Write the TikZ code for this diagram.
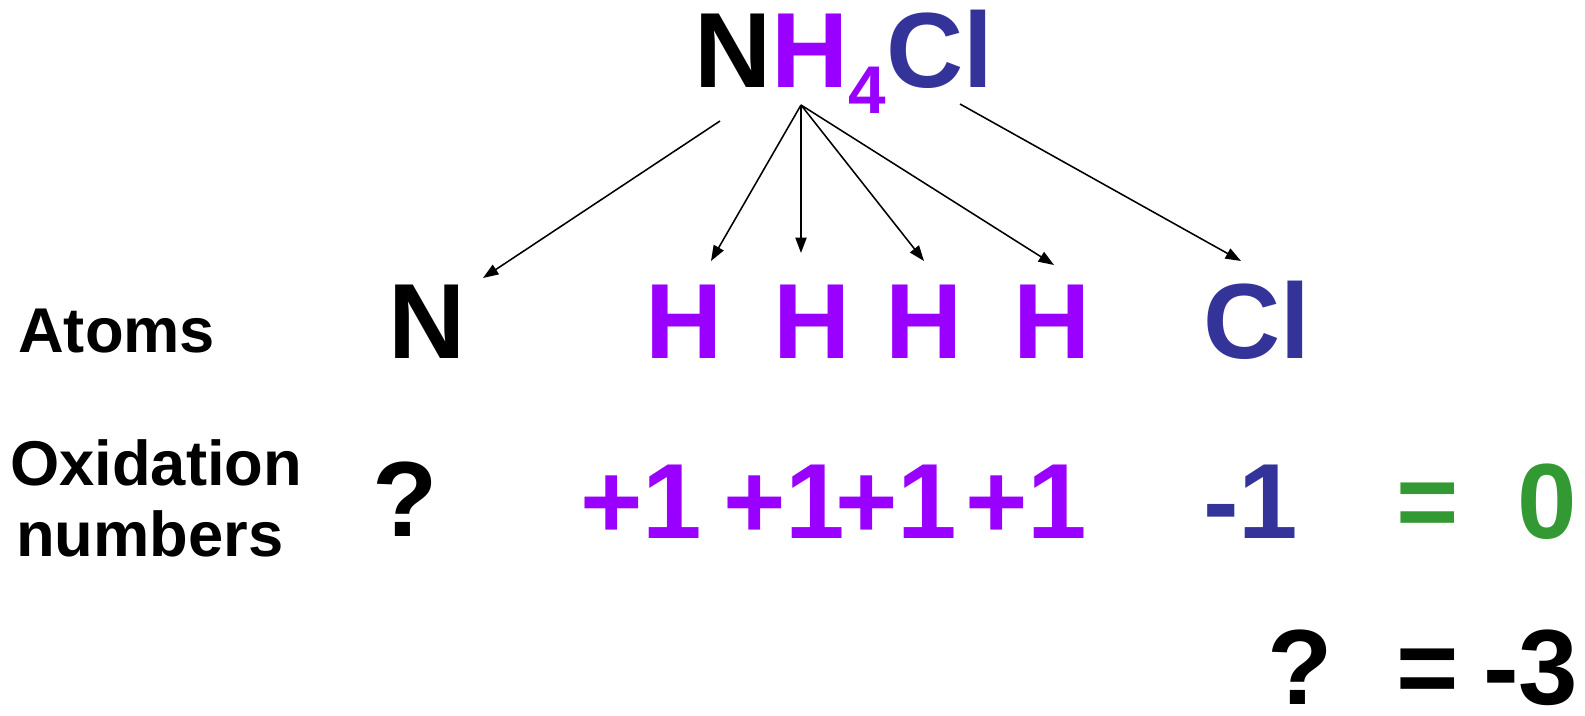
\documentclass[tikz,border=0pt]{standalone}
\usepackage{fontspec}
\setmainfont{Liberation Sans}
\usetikzlibrary{arrows.meta}
\definecolor{hpurple}{HTML}{9900FF}
\definecolor{clblue}{HTML}{333399}
\definecolor{sumgreen}{HTML}{339933}
\newcommand{\bigsym}{\fontsize{76pt}{80pt}\selectfont\bfseries}
\newcommand{\labsym}{\fontsize{45pt}{50pt}\selectfont\bfseries}
\newcommand{\subsym}{\fontsize{48pt}{50pt}\selectfont\bfseries}

\begin{document}
\begin{tikzpicture}[x=0.025cm,y=-0.025cm,
  big/.style={anchor=base west,inner sep=0pt,font=\bigsym},
  lab/.style={anchor=base west,inner sep=0pt,font=\labsym},
  link/.style={-{Triangle[length=11pt,width=8pt]},line width=1.1pt}]
  \useasboundingbox (0,0) rectangle (1585,716);
  % formula
  \node[big] (form) at (694,88)
    {N\textcolor{hpurple}{H\raisebox{-26\dimexpr0.025cm\relax}{\subsym 4}}\textcolor{clblue}{Cl}};
  % atoms row
  \node[lab] (atoms) at (18,352) {Atoms};
  \node[big] (n) at (388,358) {N};
  \node[big,hpurple] (h1) at (645,358) {H};
  \node[big,hpurple] (h2) at (773,358) {H};
  \node[big,hpurple] (h3) at (885,358) {H};
  \node[big,hpurple] (h4) at (1013,358) {H};
  \node[big,clblue] (cl) at (1203,358) {Cl};
  % oxidation numbers
  \node[lab] (oxa) at (10,485) {Oxidation};
  \node[lab] (oxb) at (16,556) {numbers};
  \node[big] (qn) at (372,536) {?};
  \node[big,hpurple] (p1) at (580,538) {+1};
  \node[big,hpurple] (p2) at (723,538) {+1};
  \node[big,hpurple] (p3) at (835,538) {+1};
  \node[big,hpurple] (p4) at (965,538) {+1};
  \node[big,clblue] (m1) at (1203,538) {-1};
  \node[big,sumgreen] (eq) at (1396,538) {=};
  \node[big,sumgreen] (zero) at (1517,538) {0};
  % result
  \node[big] (qr) at (1267,704) {?};
  \node[big] (eqr) at (1396,704) {=};
  \node[big] (res) at (1483,704) {-3};
  % arrows
  \coordinate (nsrc) at (720,121);
  \coordinate (hsrc) at (801,105);
  \coordinate (clsrc) at (960,104);
  \coordinate (ntip) at (483,278);
  \coordinate (h1tip) at (711,261);
  \coordinate (h2tip) at (801,253);
  \coordinate (h3tip) at (924,261);
  \coordinate (h4tip) at (1054,265);
  \coordinate (cltip) at (1241,261);
  \draw[link] (nsrc) -- (ntip);
  \foreach \t in {h1tip,h2tip,h3tip,h4tip} \draw[link] (hsrc) -- (\t);
  \draw[link] (clsrc) -- (cltip);
\end{tikzpicture}
\end{document}
